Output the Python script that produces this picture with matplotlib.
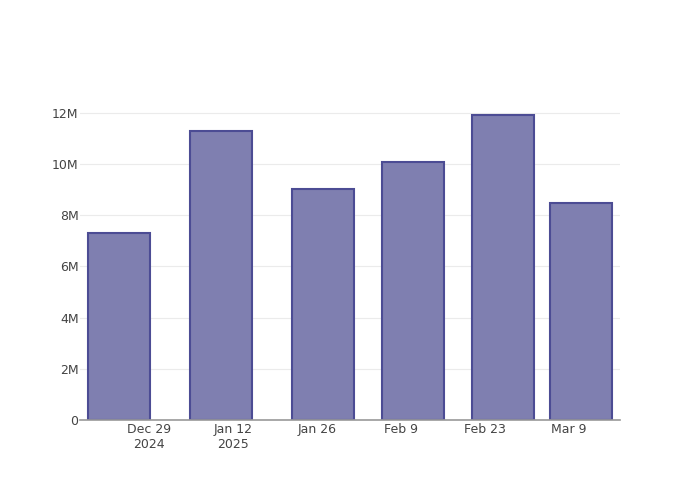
import matplotlib
matplotlib.use("Agg")
import matplotlib.pyplot as plt
import matplotlib.dates as mdates
import numpy as np
from datetime import datetime

dates = ["2024-12-24", "2025-01-10", "2025-01-27", "2025-02-11", "2025-02-26", "2025-03-11"]
values = [7.31e6, 11.30e6, 9.03e6, 10.06e6, 11.92e6, 8.47e6]
tick_dates = ["2024-12-29", "2025-01-12", "2025-01-26", "2025-02-09", "2025-02-23", "2025-03-09"]
tick_labels = ["Dec 29\n2024", "Jan 12\n2025", "Jan 26", "Feb 9", "Feb 23", "Mar 9"]
y_ticks = [0, 2e6, 4e6, 6e6, 8e6, 10e6, 12e6]
y_labels = ["0", "2M", "4M", "6M", "8M", "10M", "12M"]

x = [datetime.strptime(d, "%Y-%m-%d") for d in dates]
xt = [datetime.strptime(d, "%Y-%m-%d") for d in tick_dates]

# bar width: 0.8 of the smallest gap between dates
gap = min(np.diff(mdates.date2num(x)))
width = 0.8 * gap

fig = plt.figure(figsize=(7, 5), dpi=100)
ax = fig.add_axes([80 / 700, 80 / 500, 540 / 700, 320 / 500])

ax.bar(x, values, width=width, color="#7f7fb0", edgecolor="#4c4c94", linewidth=1.5, zorder=3)

ax.set_xlim(datetime(2024, 12, 17, 12), datetime(2025, 3, 17, 12))
ax.set_ylim(0, 12.5e6)

ax.set_xticks(xt)
ax.set_xticklabels(tick_labels, linespacing=1.25)
ax.set_yticks(y_ticks)
ax.set_yticklabels(y_labels)

ax.grid(axis="y", color="#ebebeb", linewidth=0.8, zorder=0)
ax.tick_params(length=0, labelsize=9, labelcolor="#444444")
ax.tick_params(axis="x", pad=2)
ax.tick_params(axis="y", pad=1)
for side in ["top", "right", "left"]:
    ax.spines[side].set_visible(False)
ax.spines["bottom"].set_color("#999999")
ax.spines["bottom"].set_linewidth(1.2)
ax.spines["bottom"].set_zorder(4)

fig.savefig("out.png", dpi=100)
